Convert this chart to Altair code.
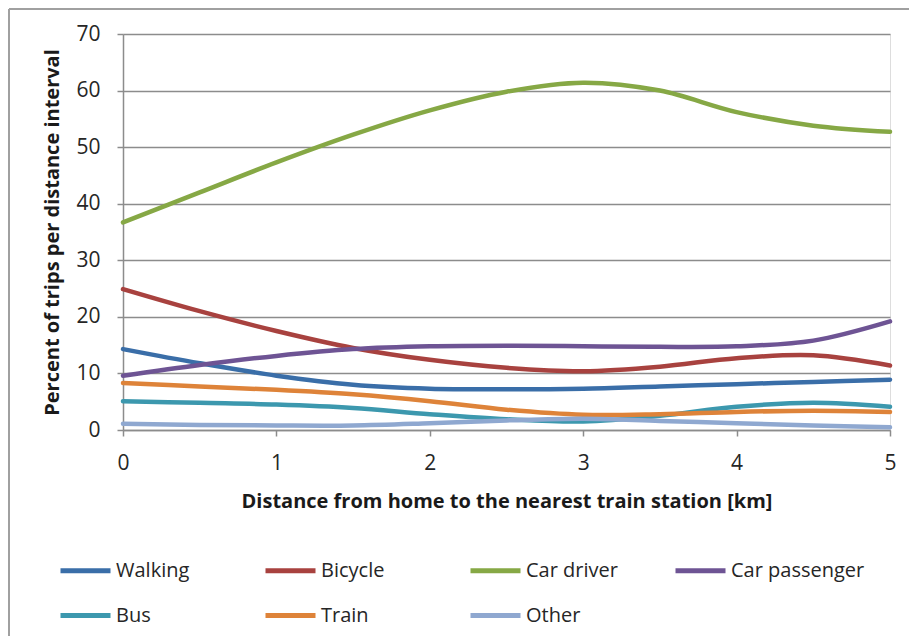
import altair as alt
import pandas as pd

distance = [0, 0.5, 1, 1.5, 2, 2.5, 3, 3.5, 4, 4.5, 5]
modes = ["Walking", "Bicycle", "Car driver", "Car passenger", "Bus", "Train", "Other"]
walking = [14.3, 11.8, 9.6, 8.0, 7.3, 7.2, 7.3, 7.7, 8.1, 8.5, 8.9]
bicycle = [24.9, 21.0, 17.5, 14.5, 12.4, 11.0, 10.4, 11.2, 12.7, 13.2, 11.4]
car_driver = [36.7, 42.0, 47.3, 52.2, 56.5, 59.8, 61.4, 60.0, 56.2, 53.8, 52.7]
car_passenger = [9.6, 11.5, 13.1, 14.3, 14.8, 14.9, 14.8, 14.7, 14.8, 15.8, 19.2]
bus = [5.1, 4.8, 4.5, 3.9, 2.8, 1.9, 1.5, 2.5, 4.1, 4.8, 4.1]
train = [8.3, 7.7, 7.1, 6.3, 5.1, 3.6, 2.7, 2.8, 3.2, 3.4, 3.2]
other = [1.1, 0.9, 0.8, 0.8, 1.2, 1.7, 2.0, 1.6, 1.2, 0.8, 0.5]
colors = ["#3A6EA8", "#A8423F", "#86A845", "#6E5494", "#3C98AE", "#DE8339", "#8FA8D0"]

series = [walking, bicycle, car_driver, car_passenger, bus, train, other]
rows = []
for m, vals in zip(modes, series):
    for d, v in zip(distance, vals):
        rows.append({"Distance": d, "Value": v, "Mode": m})
df = pd.DataFrame(rows)

W, H = 767, 396
PL, PT, PR, PB = 115, 26, 19, 206
FONT = "Open Sans"

lines = alt.Chart(df).mark_line(
    interpolate="catmull-rom", strokeWidth=4.5, strokeCap="round", clip=False
).encode(
    x=alt.X("Distance:Q", scale=alt.Scale(domain=[0, 5], nice=False),
            axis=alt.Axis(values=[0, 1, 2, 3, 4, 5], format="d", grid=False,
                          labelFlush=False,
                          title="Distance from home to the nearest train station [km]",
                          titleFont=FONT, titleFontSize=20, titleFontWeight="bold",
                          titleColor="#1a1a1a", titlePadding=18,
                          labelFont=FONT, labelFontSize=21, labelColor="#262626",
                          labelPadding=16, tickSize=6, tickColor="#8c8c8c",
                          domainColor="#8c8c8c", domainWidth=1.5, tickWidth=1.5)),
    y=alt.Y("Value:Q", scale=alt.Scale(domain=[0, 70], nice=False),
            axis=alt.Axis(values=[0, 10, 20, 30, 40, 50, 60, 70], grid=True,
                          gridColor="#8c8c8c", gridWidth=1.5,
                          title="Percent of trips per distance interval",
                          titleFont=FONT, titleFontSize=20, titleFontWeight="bold",
                          titleColor="#1a1a1a", titlePadding=13,
                          labelFont=FONT, labelFontSize=21, labelColor="#262626",
                          labelPadding=17, tickSize=6, tickColor="#8c8c8c",
                          domainColor="#8c8c8c", domainWidth=1.5, tickWidth=1.5)),
    color=alt.Color("Mode:N", scale=alt.Scale(domain=modes, range=colors),
                    sort=modes,
                    legend=alt.Legend(orient="none", legendX=-65, legendY=509,
                                      direction="horizontal",
                                      columns=4, symbolType="stroke", symbolSize=2500,
                                      symbolStrokeWidth=5, labelFont=FONT,
                                      labelFontSize=20, labelColor="#262626",
                                      labelOffset=3, columnPadding=5, rowPadding=7,
                                      gridAlign="all", title=None, padding=0,
                                      labelLimit=300)),
)

frame_top = alt.Chart(df).mark_rule(color="#a0a0a0", strokeWidth=1.5).encode(
    x=alt.value(-PL + 1), x2=alt.value(W + PR), y=alt.value(-PT + 1))
frame_left = alt.Chart(df).mark_rule(color="#a0a0a0", strokeWidth=1.5).encode(
    x=alt.value(-PL + 1), y=alt.value(-PT + 1), y2=alt.value(H + PB))

chart = alt.layer(frame_top, frame_left, lines).properties(
    width=W, height=H,
    autosize=alt.AutoSizeParams(type="none"),
    padding={"left": PL, "top": PT, "right": PR, "bottom": PB},
).configure_view(stroke=None).configure(background="white")

chart.save("out.html", embed_options={"renderer": "svg", "actions": False})
